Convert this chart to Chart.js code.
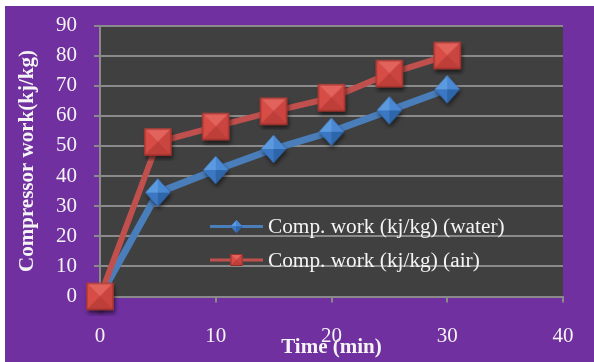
<!DOCTYPE html>
<html>
<head>
<meta charset="utf-8">
<script src="https://cdn.jsdelivr.net/npm/chart.js@4"></script>
<style>
  html, body { margin: 0; padding: 0; background: #ffffff; width: 594px; height: 362px; overflow: hidden; }
  #frame { position: absolute; left: 5px; top: 6px; width: 589px; height: 356px; background: #7030A0; }
  canvas { display: block; }
</style>
</head>
<body>
<div id="frame"><canvas id="c" width="589" height="356"></canvas></div>
<script>
// Compressor work over time, water-cooled vs air-cooled condenser
const timeMin    = [0, 5, 10, 15, 20, 25, 30];
const workWater  = [0, 34.5, 42, 49, 54.7, 61.8, 68.8];
const workAir    = [0, 51.3, 56.4, 61.5, 66, 74, 80];
const xTickVals  = [0, 10, 20, 30, 40];
const yTickVals  = [0, 10, 20, 30, 40, 50, 60, 70, 80, 90];
const seriesNames = ['Comp. work (kj/kg) (water)', 'Comp. work (kj/kg) (air)'];
const xTitle = 'Time (min)';
const yTitle = 'Compressor work(kj/kg)';

const SERIF = '"Liberation Serif", "Times New Roman", serif';
const GRID = '#8a8a8a';
const TEXT = '#f4f4f4';
const BLUE_LINE = '#4A7EBB';
const RED_LINE = '#C0504D';

// Bevelled (pyramid) square marker
function drawSquare(ctx, cx, cy, s, shadow) {
  const h = s / 2;
  const L = cx - h, R = cx + h, T = cy - h, B = cy + h;
  ctx.save();
  if (shadow) {
    ctx.shadowColor = 'rgba(0,0,0,0.55)';
    ctx.shadowBlur = 4;
    ctx.shadowOffsetX = 1;
    ctx.shadowOffsetY = 3;
  }
  ctx.fillStyle = '#B8403B';
  ctx.fillRect(L, T, s, s);
  ctx.restore();
  const faces = [
    [[L, T], [R, T], [cx, cy], '#E2625C'],
    [[L, T], [L, B], [cx, cy], '#D84C46'],
    [[R, T], [R, B], [cx, cy], '#CB4540'],
    [[L, B], [R, B], [cx, cy], '#BE3E39']
  ];
  for (const f of faces) {
    ctx.beginPath();
    ctx.moveTo(f[0][0], f[0][1]);
    ctx.lineTo(f[1][0], f[1][1]);
    ctx.lineTo(f[2][0], f[2][1]);
    ctx.closePath();
    ctx.fillStyle = f[3];
    ctx.fill();
  }
  ctx.strokeStyle = 'rgba(140,40,36,0.8)';
  ctx.lineWidth = 1;
  ctx.strokeRect(L + 0.5, T + 0.5, s - 1, s - 1);
}

// Bevelled (pyramid) diamond marker
function drawDiamond(ctx, cx, cy, w, hgt, shadow) {
  const hw = w / 2, hh = hgt / 2;
  const top = [cx, cy - hh], right = [cx + hw, cy], bottom = [cx, cy + hh], left = [cx - hw, cy];
  ctx.save();
  if (shadow) {
    ctx.shadowColor = 'rgba(0,0,0,0.55)';
    ctx.shadowBlur = 4;
    ctx.shadowOffsetX = 1;
    ctx.shadowOffsetY = 3;
  }
  ctx.beginPath();
  ctx.moveTo(...top); ctx.lineTo(...right); ctx.lineTo(...bottom); ctx.lineTo(...left);
  ctx.closePath();
  ctx.fillStyle = '#2F68AE';
  ctx.fill();
  ctx.restore();
  const c = [cx, cy];
  const faces = [
    [left, top, '#5C9AE0'],
    [top, right, '#4A88D3'],
    [left, bottom, '#3B77C2'],
    [bottom, right, '#2E66AA']
  ];
  for (const f of faces) {
    ctx.beginPath();
    ctx.moveTo(...f[0]); ctx.lineTo(...f[1]); ctx.lineTo(...c);
    ctx.closePath();
    ctx.fillStyle = f[2];
    ctx.fill();
  }
}

function markerCanvas(kind) {
  const cv = document.createElement('canvas');
  cv.width = 38; cv.height = 38;
  const g = cv.getContext('2d');
  if (kind === 'square') drawSquare(g, 19, 19, 27, true);
  else drawDiamond(g, 19, 19, 25, 28, true);
  return cv;
}

const squareImg = markerCanvas('square');
const diamondImg = markerCanvas('diamond');

const plotBackground = {
  id: 'plotBackground',
  beforeDraw(chart) {
    const a = chart.chartArea;
    const ctx = chart.ctx;
    ctx.save();
    ctx.fillStyle = '#404040';
    ctx.fillRect(a.left, a.top, a.right - a.left, a.bottom - a.top);
    ctx.restore();
  }
};

// Legend drawn inside the plot area
const innerLegend = {
  id: 'innerLegend',
  beforeDatasetsDraw(chart) {
    const ctx = chart.ctx;
    const rows = [
      { name: seriesNames[0], color: BLUE_LINE, kind: 'diamond', y: 220.5 },
      { name: seriesNames[1], color: RED_LINE, kind: 'square', y: 254 }
    ];
    ctx.save();
    for (const r of rows) {
      ctx.strokeStyle = r.color;
      ctx.lineWidth = 3;
      ctx.beginPath();
      ctx.moveTo(205, r.y);
      ctx.lineTo(258, r.y);
      ctx.stroke();
      if (r.kind === 'diamond') drawDiamond(ctx, 231.5, r.y, 12, 13, false);
      else drawSquare(ctx, 231.5, r.y, 12, false);
      ctx.fillStyle = TEXT;
      ctx.font = '21.3px ' + SERIF;
      ctx.textBaseline = 'middle';
      ctx.textAlign = 'left';
      ctx.fillText(r.name, 263, r.y + 1);
    }
    ctx.restore();
  }
};

new Chart(document.getElementById('c'), {
  type: 'line',
  data: {
    datasets: [
      {
        label: seriesNames[0],
        data: timeMin.map((t, i) => ({ x: t, y: workWater[i] })),
        borderColor: BLUE_LINE,
        borderWidth: 7,
        pointStyle: diamondImg,
        tension: 0,
        clip: false,
        order: 1
      },
      {
        label: seriesNames[1],
        data: timeMin.map((t, i) => ({ x: t, y: workAir[i] })),
        borderColor: RED_LINE,
        borderWidth: 6,
        pointStyle: squareImg,
        tension: 0,
        clip: false,
        order: 0
      }
    ]
  },
  options: {
    responsive: false,
    devicePixelRatio: 1,
    animation: false,
    layout: { padding: { left: 0, top: 19.5, right: 31, bottom: 0 } },
    plugins: { legend: { display: false }, tooltip: { enabled: false } },
    scales: {
      x: {
        type: 'linear',
        min: 0, max: 40,
        afterBuildTicks: s => { s.ticks = xTickVals.map(v => ({ value: v })); },
        afterFit: s => { s.height = 65.5; s.paddingLeft = 0; s.paddingRight = 0; },
        grid: { display: true, drawOnChartArea: false, drawTicks: true, tickLength: 6, color: GRID, lineWidth: 2 },
        border: { display: true, color: GRID, width: 2 },
        ticks: { color: TEXT, font: { family: SERIF, size: 21 }, padding: 21, maxRotation: 0 },
        title: { display: true, text: xTitle, color: TEXT, font: { family: SERIF, size: 21, weight: 'bold' }, padding: { top: 0, bottom: 2 } }
      },
      y: {
        min: 0, max: 90,
        afterBuildTicks: s => { s.ticks = yTickVals.map(v => ({ value: v })); },
        afterFit: s => { s.width = 95; s.paddingTop = 0; s.paddingBottom = 0; },
        grid: { display: true, drawTicks: true, tickLength: 6, color: GRID, lineWidth: 2 },
        border: { display: true, color: GRID, width: 2 },
        ticks: { color: TEXT, font: { family: SERIF, size: 21 }, padding: 17 },
        title: { display: true, text: yTitle, color: TEXT, font: { family: SERIF, size: 21, weight: 'bold' }, padding: { top: 10, bottom: 0 } }
      }
    }
  },
  plugins: [plotBackground, innerLegend]
});
</script>
</body>
</html>
